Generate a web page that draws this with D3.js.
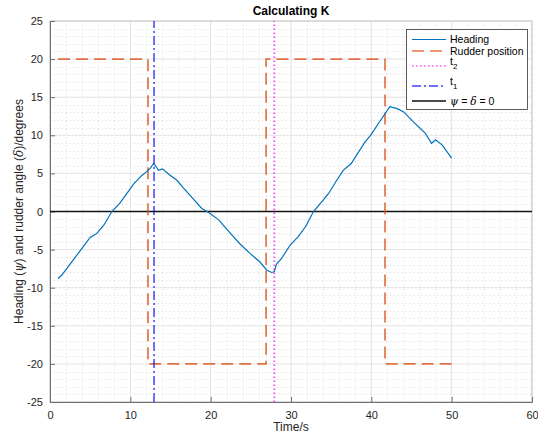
<!DOCTYPE html>
<html><head><meta charset="utf-8">
<script src="https://cdn.jsdelivr.net/npm/d3@7"></script>
<style>body{margin:0;background:#fff}svg{display:block}</style>
</head><body><svg id="c" width="538" height="436"></svg>
<script>
const headingTime = [1.0,1.5,2.5,3.3,4.0,5.0,5.8,6.7,7.7,8.7,9.6,10.4,11.4,12.0,12.5,12.9,13.2,13.5,14.0,14.9,15.8,16.6,17.8,18.9,19.7,21.0,22.4,23.6,24.9,26.1,27.0,27.6,27.9,28.2,28.8,29.9,30.9,31.8,32.8,34.0,34.7,35.7,36.5,37.5,38.4,39.2,39.9,41.3,42.3,43.2,44.0,45.2,46.7,47.5,48.0,48.8,50.0];
const headingValue = [-8.8,-8.3,-6.9,-5.8,-4.8,-3.4,-2.9,-1.8,0.0,1.1,2.4,3.6,4.7,5.2,5.7,6.3,5.9,5.4,5.6,4.8,4.1,3.1,1.7,0.4,-0.1,-1.1,-2.8,-4.2,-5.5,-6.6,-7.7,-8.0,-7.9,-6.9,-6.2,-4.4,-3.3,-2.0,0.0,1.5,2.4,4.1,5.4,6.3,7.8,9.1,10.0,12.2,13.75,13.5,13.1,11.8,10.3,8.95,9.4,8.75,7.0];
const rudderTime = [1, 12.2, 12.2, 26.9, 26.9, 41.7, 41.7, 50];
const rudderValue = [20, 20, -20, -20, 20, 20, -20, -20];
const t1 = 12.95;
const t2 = 27.9;
const xTicks = [0,10,20,30,40,50,60];
const yTicks = [-25,-20,-15,-10,-5,0,5,10,15,20,25];
const xMinor = d3.range(0,61,2);
const yMinor = d3.range(-25,26,1);

const svg = d3.select('#c');
const L=50,R=532,T=21,B=402;
const x = d3.scaleLinear().domain([0,60]).range([L,R]);
const y = d3.scaleLinear().domain([-25,25]).range([B,T]);
const font = "'Liberation Sans', Arial, sans-serif";

// minor grid
const g = svg.append('g');
g.selectAll('.mx').data(xMinor.filter(v=>v%10!==0)).enter().append('line')
 .attr('x1',d=>x(d)+0.5).attr('x2',d=>x(d)+0.5).attr('y1',T).attr('y2',B)
 .attr('stroke','#cfcfcf').attr('stroke-width',0.8).attr('stroke-dasharray','1,3');
g.selectAll('.my').data(yMinor.filter(v=>v%5!==0)).enter().append('line')
 .attr('y1',d=>Math.round(y(d))+0.5).attr('y2',d=>Math.round(y(d))+0.5).attr('x1',L).attr('x2',R)
 .attr('stroke','#cfcfcf').attr('stroke-width',0.8).attr('stroke-dasharray','1,3');
// major grid
g.selectAll('.gx').data(xTicks).enter().append('line')
 .attr('x1',d=>x(d)).attr('x2',d=>x(d)).attr('y1',T).attr('y2',B)
 .attr('stroke','#e3e3e3').attr('stroke-width',1);
g.selectAll('.gy').data(yTicks).enter().append('line')
 .attr('y1',d=>y(d)).attr('y2',d=>y(d)).attr('x1',L).attr('x2',R)
 .attr('stroke','#e3e3e3').attr('stroke-width',1);

// box
svg.append('rect').attr('x',L).attr('y',T).attr('width',R-L).attr('height',B-T)
 .attr('fill','none').attr('stroke','#bdbdbd').attr('stroke-width',0.8);

// axes
const fmt = d => String(d);
const xAxis = d3.axisBottom(x).tickValues(xTicks).tickFormat(fmt).tickSize(-5).tickPadding(9);
const yAxis = d3.axisLeft(y).tickValues(yTicks).tickFormat(fmt).tickSize(-5).tickPadding(7);
const gx = svg.append('g').attr('transform',`translate(0,${B})`).call(xAxis);
const gy = svg.append('g').attr('transform',`translate(${L},0)`).call(yAxis);
[gx,gy].forEach(a=>{
  a.select('.domain').attr('stroke','#6e6e6e');
  a.selectAll('.tick line').attr('stroke','#6e6e6e');
  a.selectAll('.tick text').attr('fill','#262626').style('font-family',font).style('font-size','11px');
});

// zero line
const lineGen = d3.line().x(d=>x(d[0])).y(d=>y(d[1]));
svg.append('path').datum([[0,0],[60,0]]).attr('d',lineGen)
 .attr('stroke','#111').attr('stroke-width',1.3).attr('fill','none');

// rudder
svg.append('path').datum(rudderTime.map((t,i)=>[t,rudderValue[i]])).attr('d',lineGen)
 .attr('stroke','#D95319').attr('stroke-width',1.7).attr('fill','none').attr('stroke-opacity',0.8)
 .attr('stroke-dasharray','12,6');

// heading
svg.append('path').datum(headingTime.map((t,i)=>[t,headingValue[i]])).attr('d',lineGen)
 .attr('stroke','#0072BD').attr('stroke-width',1.2).attr('fill','none');

// t2
svg.append('path').datum([[t2,-25],[t2,25]]).attr('d',lineGen)
 .attr('stroke','#ff00ff').attr('stroke-width',1.2).attr('fill','none').attr('stroke-dasharray','1.5,2.5');
// t1
svg.append('path').datum([[t1,-25],[t1,25]]).attr('d',lineGen)
 .attr('stroke','#0000ff').attr('stroke-width',1.5).attr('fill','none').attr('stroke-opacity',0.75)
 .attr('stroke-dasharray','9,3,2,3');

// title & labels
svg.append('text').attr('x',(L+R)/2).attr('y',15).attr('text-anchor','middle')
 .style('font-family',font).style('font-size','12px').style('font-weight','bold').attr('fill','#000')
 .text('Calculating K');
svg.append('text').attr('x',(L+R)/2).attr('y',431).attr('text-anchor','middle')
 .style('font-family',font).style('font-size','12px').attr('fill','#262626').text('Time/s');
const yl = svg.append('text').attr('transform',`translate(23,${(T+B)/2}) rotate(-90)`).attr('text-anchor','middle')
 .style('font-family',font).style('font-size','12px').attr('fill','#262626');
yl.append('tspan').text('Heading (');
yl.append('tspan').style('font-family',"'DejaVu Serif', serif").style('font-style','italic').text('ψ');
yl.append('tspan').text(') and rudder angle (');
yl.append('tspan').style('font-family',"'DejaVu Serif', serif").style('font-style','italic').text('δ');
yl.append('tspan').text(')/degrees');

// legend
const lg = svg.append('g');
lg.append('rect').attr('x',406.5).attr('y',29.5).attr('width',121).attr('height',80)
 .attr('fill','#fff').attr('stroke','#333').attr('stroke-width',0.8);
const legendItems = [
 {label:'Heading', y:39.5, stroke:'#0072BD', w:1.2, dash:null, op:1},
 {label:'Rudder position', y:51, stroke:'#D95319', w:1.7, dash:'12,6', op:0.8},
 {label:'t', sub:'2', y:66, stroke:'#ff00ff', w:1.2, dash:'1.5,2.5', op:1},
 {label:'t', sub:'1', y:86, stroke:'#0000ff', w:1.5, dash:'9,3,2,3', op:0.75},
 {label:'psi', y:101, stroke:'#111', w:1.3, dash:null, op:1}
];
legendItems.forEach(it=>{
  lg.append('line').attr('x1',412).attr('x2',446).attr('y1',it.y).attr('y2',it.y)
   .attr('stroke',it.stroke).attr('stroke-width',it.w).attr('stroke-opacity',it.op)
   .attr('stroke-dasharray',it.dash);
  const tx = lg.append('text').attr('x',450).attr('y',it.sub? it.y-1 : it.y+3.5)
   .style('font-family',font).style('font-size','10.5px').attr('fill','#000');
  if(it.label==='psi'){
    tx.append('tspan').style('font-family',"'DejaVu Serif', serif").style('font-style','italic').text('ψ');
    tx.append('tspan').text(' = ');
    tx.append('tspan').style('font-family',"'DejaVu Serif', serif").style('font-style','italic').text('δ');
    tx.append('tspan').text(' = 0');
  } else {
    tx.append('tspan').text(it.label);
    if(it.sub) tx.append('tspan').attr('dy',4).style('font-size','8px').text(it.sub);
  }
});
</script></body></html>
